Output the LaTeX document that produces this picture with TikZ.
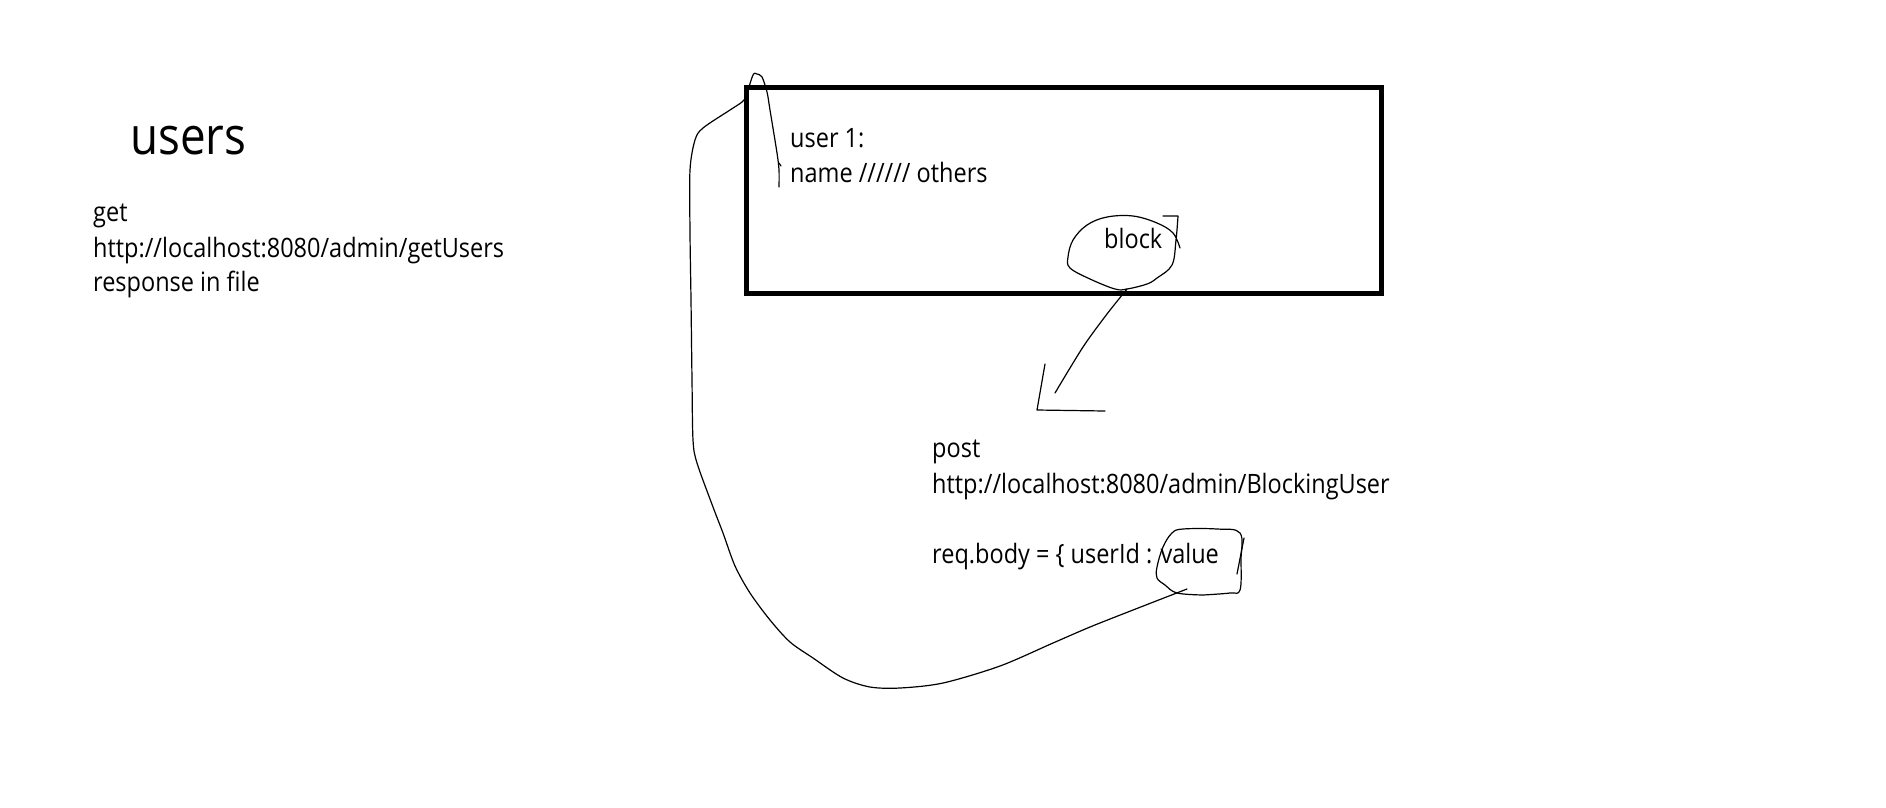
\documentclass[tikz,border=0pt]{standalone}
\usepackage{fontspec}
\setmainfont{Open Sans}[FakeStretch=0.88]
\begin{document}
\begin{tikzpicture}[x=1pt,y=-1pt,
  txt/.style={anchor=base west,inner sep=0pt,font=\fontsize{26.7}{35}\selectfont},
  big/.style={anchor=base west,inner sep=0pt,font=\fontsize{52}{60}\selectfont},
  pen/.style={line width=1.2pt,line join=round,line cap=round},
  frame/.style={draw,line width=5pt,inner sep=0pt,minimum width=635pt,minimum height=206pt}]
\useasboundingbox[fill=white] (0,0) rectangle (1886,807);

% left block
\node[big] (title) at (130,154) {users};
\node[txt] (g1) at (93,221) {get};
\node[txt] (g2) at (93,257) {http://localhost:8080/admin/getUsers};
\node[txt] (g3) at (93,291) {response in file};

% box
\node[frame] (box) at (1064,190.5) {};
\node[txt] (u1) at (790,147) {user 1:};
\node[txt] (u2) at (790,182) {name ////// others};
\node[txt] (blk) at (1104,248) {block};

% post block
\node[txt] (p1) at (932,457) {post};
\node[txt] (p2) at (932,493) {http://localhost:8080/admin/BlockingUser};
\node[txt] (p3) at (932,563) {req.body = \{ userId : value};

% hand-drawn loop around "block"
\coordinate (blkbot) at (1127,289);
\draw[pen] (1163,216) -- (1178,216)
  plot[smooth,tension=0.6] coordinates {(1178,216) (1176,240) (1172,265) (1157,278) (1147,284) (blkbot) (1115,289) (1090,279) (1070,268) (1068,257) (1073,240) (1087,225) (1107,217) (1133,216) (1157,223) (1173,233) (1180,248)};

% arrow from block down-left
\coordinate (arrtip) at (1055,393);
\draw[pen] plot[smooth,tension=0.5] coordinates {(blkbot) (1107,314) (1083,347) (arrtip)};
\draw[pen] (1045,364) -- (1037,410) -- (1105,411);

% loop around "value"
\coordinate (valbot) at (1187,589);
\draw[pen] plot[smooth,tension=0.6] coordinates {(1203,595) (1177,593) (1165,585) (1157,578) (1157,567) (1163,547) (1172,533) (1183,529) (1217,529) (1240,533) (1241,560) (1240,590) (1230,593) (1203,595)};
\draw[pen] (1244,538) -- (1237,574);

% long curve from value back to the box top-left
\coordinate (curveend) at (779,187);
\draw[pen] plot[smooth,tension=0.5] coordinates {(valbot) (1133,610) (1090,627) (1053,643) (1000,666) (943,683) (900,688) (870,687) (843,678) (813,658) (790,642) (770,620) (750,593) (735,566) (723,533) (713,507) (697,463) (693,440) (692,380) (691,300) (690,233) (690,170) (695,140) (703,128) (730,110) (742,102) (746,96) (753,75) (757,74) (762,77) (767,92) (770,110) (777,153) (779,170) (curveend)};
\draw[pen] (779,163) -- (781,166);
\end{tikzpicture}
\end{document}
